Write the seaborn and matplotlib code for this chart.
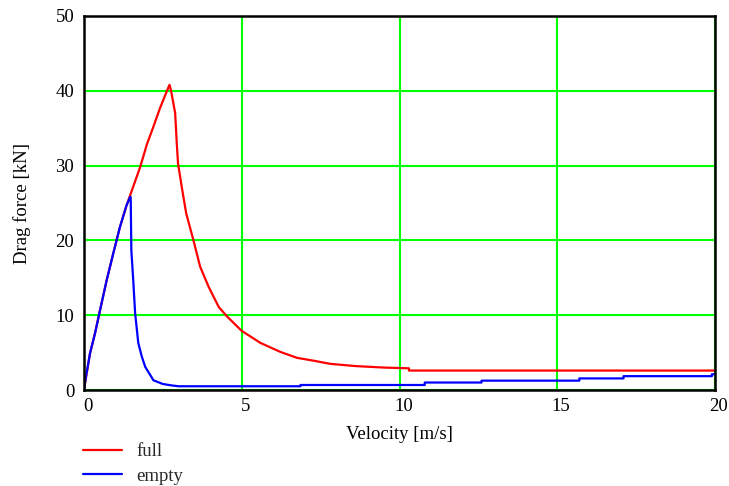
import numpy as np
import pandas as pd
import matplotlib
matplotlib.use("Agg")
import matplotlib.pyplot as plt
import matplotlib.transforms as mtransforms
import seaborn as sns

# Data
full_v = [0, 0.19, 0.35, 0.51, 0.72, 0.93, 1.14, 1.35, 1.46, 1.78, 1.99, 2.2, 2.41, 2.64, 2.71,
          2.76, 2.89, 2.94, 2.98, 3.1, 3.24, 3.47, 3.68, 3.95, 4.27, 4.54, 5.0, 5.59, 6.22,
          6.75, 7.3, 7.8, 8.6, 9.5, 10.3, 10.3, 20.0]
full_f = [0, 4.9, 7.6, 10.7, 14.7, 18.3, 21.8, 24.7, 26.0, 29.8, 32.8, 35.2, 37.7, 40.1, 40.8,
          40.0, 37.0, 33.0, 30.3, 27.1, 23.6, 20.0, 16.5, 13.8, 11.1, 9.8, 7.9, 6.3, 5.1,
          4.3, 3.9, 3.5, 3.2, 3.0, 2.9, 2.6, 2.6]

empty_v = [0, 0.05, 0.19, 0.35, 0.51, 0.72, 0.93, 1.14, 1.35, 1.46, 1.48, 1.5, 1.56, 1.62,
           1.72, 1.83, 1.94, 2.2, 2.5, 2.8, 3.0, 6.86, 6.86, 10.8, 10.8, 12.6, 12.6, 15.7,
           15.7, 17.1, 17.1, 19.9, 19.9, 20.0]
empty_f = [0, 1.5, 4.9, 7.6, 10.7, 14.7, 18.3, 21.8, 24.7, 25.8, 25.8, 18.7, 14.7, 10.3,
           6.3, 4.5, 3.1, 1.3, 0.8, 0.6, 0.5, 0.5, 0.67, 0.67, 1.0, 1.0, 1.25, 1.25,
           1.55, 1.55, 1.85, 1.85, 2.1, 2.1]

series_names = ["full", "empty"]
series_colors = ["#ff0000", "#0000ff"]
x_ticks = [0, 5, 10, 15, 20]
y_ticks = [0, 10, 20, 30, 40, 50]
x_label = "Velocity [m/s]"
y_label = "Drag force [kN]"

df = pd.concat([
    pd.DataFrame({"v": full_v, "F": full_f, "series": "full"}),
    pd.DataFrame({"v": empty_v, "F": empty_f, "series": "empty"}),
])

sns.set_theme(style="white")
plt.rcParams["font.family"] = ["Liberation Serif", "DejaVu Serif"]

fig = plt.figure(figsize=(7.29, 4.86), dpi=100)
ax = fig.add_axes([84 / 729, 1 - 390 / 486, (715 - 84) / 729, (390 - 16) / 486])

sns.lineplot(data=df, x="v", y="F", hue="series", hue_order=series_names,
             palette=series_colors, linewidth=1.6,
             sort=False, estimator=None, ax=ax, legend=True)

ax.set_xlim(0, 20)
ax.set_ylim(0, 50)
ax.set_xticks(x_ticks)
ax.set_yticks(y_ticks)
ax.grid(True, color="#00ff00", linewidth=1.5)
ax.set_axisbelow(True)
for s in ax.spines.values():
    s.set_visible(True)
    s.set_color("black")
    s.set_linewidth(1.8)
ax.tick_params(axis="both", length=0, labelsize=13.5, colors="black")
ax.tick_params(axis="x", pad=6)
ax.tick_params(axis="y", pad=7)
offset = mtransforms.ScaledTranslation(4 / 100, 0, fig.dpi_scale_trans)
for lbl in ax.get_xticklabels():
    lbl.set_transform(lbl.get_transform() + offset)

ax.set_xlabel(x_label, fontsize=13.5, color="black", labelpad=8)
ax.set_ylabel(y_label, fontsize=13.5, color="black", labelpad=18)

handles, labels = ax.get_legend_handles_labels()
ax.get_legend().remove()
fig.legend(handles, labels, loc="upper left", bbox_to_anchor=(83 / 729, 1 - 443 / 486),
           frameon=False, fontsize=13.5, borderpad=0, borderaxespad=0,
           handlelength=2.1, handletextpad=0.75, labelspacing=0.4)

fig.savefig("out.png", dpi=100)
